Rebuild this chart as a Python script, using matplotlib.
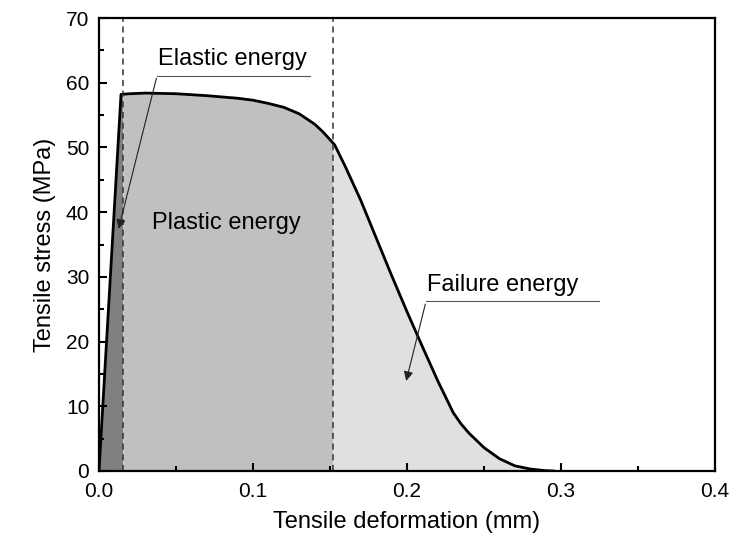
import numpy as np
import matplotlib.pyplot as plt
from matplotlib.ticker import MultipleLocator, FormatStrFormatter

plt.rcParams['font.family'] = ['Liberation Sans', 'DejaVu Sans']

# tensile stress-deformation curve (mm, MPa)
deformation = [0.0, 0.0143, 0.02, 0.03, 0.05, 0.07, 0.09, 0.10, 0.11, 0.12,
               0.13, 0.14, 0.145, 0.15, 0.153, 0.16, 0.17, 0.18, 0.19, 0.20,
               0.21, 0.22, 0.23, 0.235, 0.24, 0.25, 0.26, 0.27, 0.28, 0.29,
               0.295]
stress = [0.0, 58.2, 58.3, 58.4, 58.3, 58.0, 57.6, 57.3, 56.8, 56.2,
          55.2, 53.6, 52.5, 51.2, 50.4, 47.0, 41.8, 36.0, 30.2, 24.6,
          19.2, 13.9, 9.0, 7.3, 5.9, 3.6, 1.9, 0.8, 0.3, 0.05,
          0.0]

elastic_end = 0.0154
plastic_end = 0.152

x = np.array(deformation)
y = np.array(stress)
xf = np.linspace(0, x[-1], 2000)
yf = np.interp(xf, x, y)

fig = plt.figure(figsize=(7.3, 5.41), dpi=100)
ax = fig.add_axes([0.1356, 0.1294, 0.844, 0.8373])

ax.fill_between(xf, yf, where=xf <= elastic_end, color='#808080', lw=0)
ax.fill_between(xf, yf, where=(xf >= elastic_end) & (xf <= plastic_end),
                color='#c0c0c0', lw=0)
ax.fill_between(xf, yf, where=xf >= plastic_end, color='#e0e0e0', lw=0)
ax.plot(x, y, color='black', lw=2, solid_joinstyle='round')

for xv in (elastic_end, plastic_end):
    ax.axvline(xv, color='#333333', lw=1.1, ls=(0, (4, 3)))

# labels with underline and pointer
ax.text(0.0385, 61.9, 'Elastic energy', fontsize=17, ha='left', va='bottom')
ax.plot([0.0377, 0.137], [61.1, 61.1], color='#555555', lw=0.8)
ax.annotate('', xy=(0.0123, 37.0), xytext=(0.0377, 61.1),
            arrowprops=dict(arrowstyle='-|>', color='#222222', lw=0.8,
                            mutation_scale=14))

ax.text(0.083, 38.4, 'Plastic energy', fontsize=17, ha='center', va='center')

ax.text(0.2130, 27.0, 'Failure energy', fontsize=17, ha='left', va='bottom')
ax.plot([0.2123, 0.3247], [26.2, 26.2], color='#555555', lw=0.8)
ax.annotate('', xy=(0.199, 13.5), xytext=(0.2123, 26.2),
            arrowprops=dict(arrowstyle='-|>', color='#222222', lw=0.8,
                            mutation_scale=14))

ax.set_xlim(0, 0.4)
ax.set_ylim(0, 70)
ax.xaxis.set_major_locator(MultipleLocator(0.1))
ax.xaxis.set_minor_locator(MultipleLocator(0.05))
ax.xaxis.set_major_formatter(FormatStrFormatter('%.1f'))
ax.yaxis.set_major_locator(MultipleLocator(10))
ax.yaxis.set_minor_locator(MultipleLocator(5))
ax.tick_params(which='both', direction='in', top=False, right=False,
               labelsize=15, width=1.5)
ax.tick_params(which='major', length=6)
ax.tick_params(which='minor', length=3.5)
ax.tick_params(axis='x', which='major', pad=8)
ax.tick_params(axis='y', which='major', pad=7)
for s in ax.spines.values():
    s.set_linewidth(1.6)

ax.set_xlabel('Tensile deformation (mm)', fontsize=17, labelpad=7)
ax.set_ylabel('Tensile stress (MPa)', fontsize=17, labelpad=7)

fig.savefig('out.png', dpi=100)
